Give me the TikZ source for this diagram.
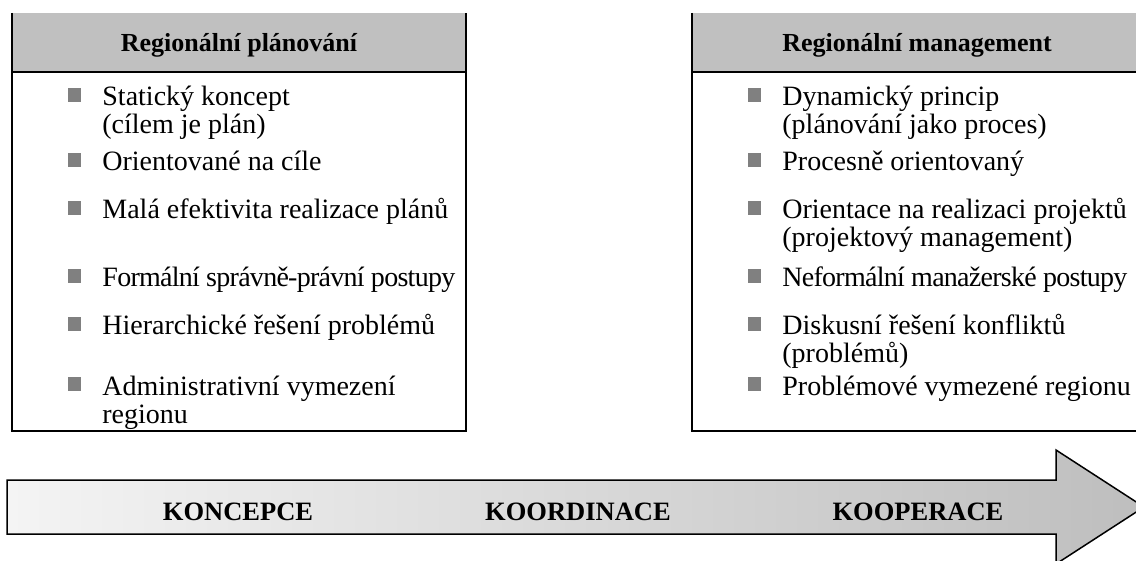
\documentclass[tikz,border=0pt]{standalone}
\usepackage{fontspec}
\setmainfont{Liberation Serif}
\definecolor{headgray}{HTML}{C0C0C0}
\definecolor{bulletgray}{HTML}{808080}
\definecolor{shaftlight}{HTML}{F4F4F4}
\definecolor{shaftdark}{HTML}{BEBEBE}
% one bulleted entry: text node (top-aligned lines) plus its square bullet
\newcommand{\bitem}[4]{%
  \node[item] (#1) at (#2,#3) {\parbox[t]{180pt}{#4}};
  \node[bullet] (#1b) at ([xshift=-13.75pt,yshift=5.5pt]#1.base west) {};}
\newcommand{\tight}{\addfontfeature{LetterSpace=-2.6}}
\begin{document}
\begin{tikzpicture}[x=0.5pt,y=-0.5pt,
  item/.style={anchor=base west, inner sep=0pt,
    font=\fontsize{14}{14}\selectfont},
  bullet/.style={fill=bulletgray, minimum size=6.75pt, inner sep=0pt},
  headtext/.style={anchor=base, inner sep=0pt,
    font=\fontsize{13}{13}\selectfont\bfseries},
  labeltext/.style={anchor=base, inner sep=0pt,
    font=\fontsize{13.25}{13.25}\selectfont\bfseries},
  frame/.style={line width=1pt},
  arrowline/.style={line width=0.75pt, left color=shaftlight, right color=shaftdark},
]
\path[use as bounding box] (0,0) rectangle (1136,561);
\clip (0,0) rectangle (1136,561);

% left panel
\fill[headgray] (12,13) rectangle (466,72);
\draw[frame] (12,13) -- (12,431) -- (466,431) -- (466,13);
\draw[frame] (12,72) -- (466,72);
\node[headtext] (lhead) at (239,52) {Regionální plánování};

\bitem{l1}{102}{106}{Statický koncept\\(cílem je plán)}
\bitem{l2}{102}{171}{Orientované na cíle}
\bitem{l3}{102}{219}{Malá efektivita realizace plánů}
\bitem{l4}{102}{287}{{\tight Formální správně-právní postupy}}
\bitem{l5}{102}{335}{Hierarchické řešení problémů}
\bitem{l6}{102}{395}{Administrativní vymezení\\regionu}

% right panel
\fill[headgray] (692,13) rectangle (1146,72);
\draw[frame] (692,13) -- (692,431) -- (1146,431);
\draw[frame] (692,72) -- (1146,72);
\node[headtext] (rhead) at (917,52) {Regionální management};

\bitem{r1}{782}{106}{Dynamický princip\\(plánování jako proces)}
\bitem{r2}{782}{171}{Procesně orientovaný}
\bitem{r3}{782}{219}{Orientace na realizaci projektů\\(projektový management)}
\bitem{r4}{782}{287}{{\tight Neformální manažerské postupy}}
\bitem{r5}{782}{335}{Diskusní řešení konfliktů\\(problémů)}
\bitem{r6}{782}{395}{Problémové vymezené regionu}

% process arrow
\draw[arrowline] (7,480) -- (1056,480) -- (1056,450) -- (1144,507)
  -- (1056,564) -- (1056,534) -- (7,534) -- cycle;
\node[labeltext] (a1) at (238,520) {KONCEPCE};
\node[labeltext] (a2) at (578,520) {KOORDINACE};
\node[labeltext] (a3) at (918,520) {KOOPERACE};
\end{tikzpicture}
\end{document}
